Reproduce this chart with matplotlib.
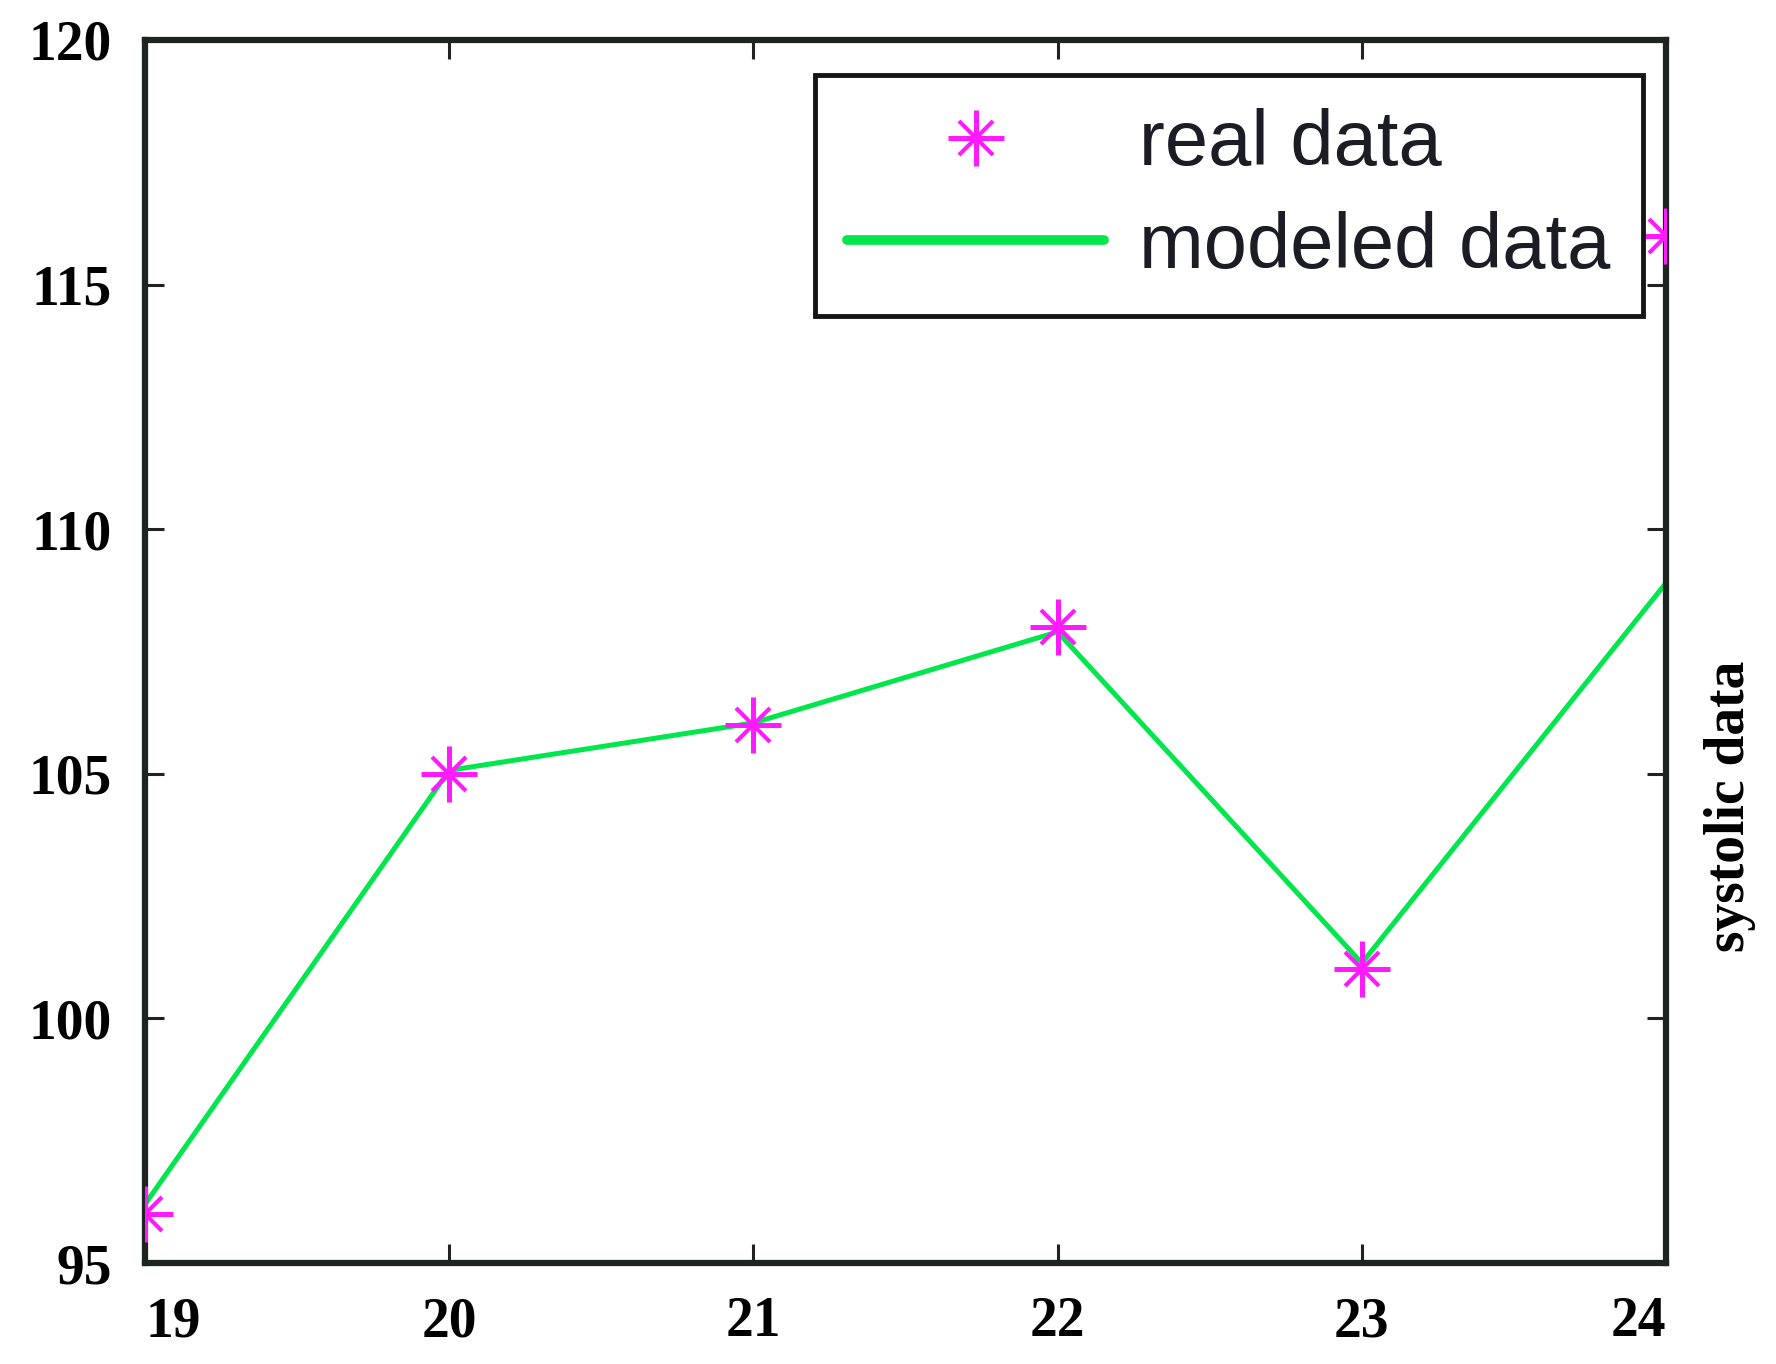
import matplotlib
matplotlib.use("Agg")
import matplotlib.pyplot as plt
from matplotlib.lines import Line2D
from matplotlib.legend_handler import HandlerTuple

# ---- data ----
x_vals = [19, 20, 21, 22, 23, 24]
real_data = [96, 105, 106, 108, 101, 116]
modeled_data = [96.2, 105.07, 106.04, 107.9, 101.13, 108.9]
x_ticks = [19, 20, 21, 22, 23, 24]
y_ticks = [95, 100, 105, 110, 115, 120]
legend_labels = ["real data", "modeled data"]
right_label = "systolic data"

W, H, DPI = 1776, 1364, 100
fig = plt.figure(figsize=(W / DPI, H / DPI), dpi=DPI)
ax = fig.add_axes([145 / W, 1 - 1263 / H, (1666 - 145) / W, (1263 - 40) / H])

magenta = "#ff1aff"
green = "#00e64c"

plus_kw = dict(linestyle="none", marker="+", ms=40, mew=3.6, color=magenta)
x_kw = dict(linestyle="none", marker="x", ms=24, mew=3.0, color=magenta)

ax.plot(x_vals, modeled_data, color=green, lw=3.6, solid_capstyle="round", zorder=2)
ax.plot(x_vals, real_data, zorder=3, **plus_kw)
ax.plot(x_vals, real_data, zorder=3, **x_kw)

ax.set_xlim(19, 24)
ax.set_ylim(95, 120)
ax.set_xticks(x_ticks)
ax.set_yticks(y_ticks)

serif = {"family": "Liberation Serif", "weight": "bold", "size": 40}
ax.set_xticklabels([str(t) for t in x_ticks], fontdict=serif)
ax.set_yticklabels([str(t) for t in y_ticks], fontdict=serif)
xl = ax.get_xticklabels()
xl[0].set_ha("left")
xl[-1].set_ha("right")

ax.tick_params(axis="both", which="major", direction="in", length=14, width=2.2,
               color="#222222", top=True, right=True)
ax.tick_params(axis="x", pad=24)
ax.tick_params(axis="y", pad=24)

for sp in ax.spines.values():
    sp.set_linewidth(4.5)
    sp.set_color("#1e241f")

# legend
h_real = (Line2D([], [], **plus_kw), Line2D([], [], **x_kw))
h_mod = Line2D([], [], color=green, lw=7, solid_capstyle="round")
leg = ax.legend([h_real, h_mod], legend_labels, loc="upper right",
                handler_map={tuple: HandlerTuple(ndivide=1)},
                bbox_to_anchor=(0.985, 0.971), prop={"family": "Liberation Sans", "size": 56},
                frameon=True, fancybox=False, shadow=False, framealpha=1,
                borderpad=0.42, labelspacing=0.38, handlelength=3.3, handletextpad=0.45,
                borderaxespad=0)
leg.get_frame().set_edgecolor("#151515")
leg.get_frame().set_linewidth(3.5)
for t in leg.get_texts():
    t.set_color("#1c1c24")

fig.text(1730 / W, 1 - 806 / H, right_label, rotation=90, ha="center", va="center",
         family="Liberation Serif", weight="bold", fontsize=40)

fig.savefig("out.png", dpi=DPI, facecolor="white")
